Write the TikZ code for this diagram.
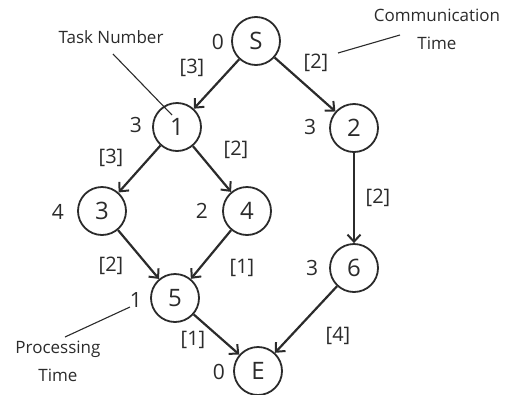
\documentclass[tikz,border=0pt]{standalone}
\usepackage{fontspec}
\setmainfont{Open Sans}
\usetikzlibrary{arrows.meta}
\definecolor{ink}{HTML}{2B2B2B}
\begin{document}
\begin{tikzpicture}[x=1pt,y=-1pt,
  task/.style={circle,draw=ink,line width=1.8pt,minimum size=48pt,inner sep=0pt,font=\fontsize{24}{26}\selectfont,text=ink},
  ptime/.style={font=\fontsize{21}{24}\selectfont,text=ink},
  ctime/.style={font=\fontsize{20}{22}\selectfont,text=ink},
  note/.style={font=\fontsize{17}{28}\selectfont,text=ink,align=center},
  edge/.style={draw=ink,line width=2.2pt,-{Straight Barb[length=7pt,width=13pt,line width=2pt]}},
  pointer/.style={draw=ink,line width=1.1pt}]
\useasboundingbox (0,0) rectangle (511,394);
% tasks
\node[task] (S) at (256,41) {S};
\node[task] (n1) at (177,127) {1};
\node[task] (n2) at (354,128) {2};
\node[task] (n3) at (102,211) {3};
\node[task] (n4) at (247,211) {4};
\node[task] (n5) at (175,298) {5};
\node[task] (n6) at (354,268) {6};
\node[task] (E) at (258,371) {E};
% processing times
\node[ptime] (pS) at (218,42) {0};
\node[ptime] (p1) at (136,125) {3};
\node[ptime] (p2) at (310,127) {3};
\node[ptime] (p3) at (58,212) {4};
\node[ptime] (p4) at (202,211) {2};
\node[ptime] (p6) at (312,268) {3};
\node[ptime] (p5) at (136,300) {1};
\node[ptime] (pE) at (219,372) {0};
% dependencies
\draw[edge] (S) -- (n1);
\draw[edge] (S) -- (n2);
\draw[edge] (n1) -- (n3);
\draw[edge] (n1) -- (n4);
\draw[edge] (n3) -- (n5);
\draw[edge] (n4) -- (n5);
\draw[edge] (n2) -- (n6);
\draw[edge] (n5) -- (E);
\draw[edge] (n6) -- (E);
% communication times
\node[ctime] (cS1) at (192,68) {[3]};
\node[ctime] (cS2) at (316,63) {[2]};
\node[ctime] (c13) at (111,158) {[3]};
\node[ctime] (c14) at (236,150) {[2]};
\node[ctime] (c26) at (378,198) {[2]};
\node[ctime] (c35) at (111,266) {[2]};
\node[ctime] (c45) at (242,268) {[1]};
\node[ctime] (c5E) at (193,340) {[1]};
\node[ctime] (c6E) at (338,336) {[4]};
% annotations
\node[note] (tn) at (111,37) {Task Number};
\node[note] (ct) at (437,29) {Communication\\Time};
\node[note] (pt) at (58,361) {Processing\\Time};
\coordinate (tnA) at (113,54);
\coordinate (tnB) at (172,115);
\coordinate (ctA) at (400,35);
\coordinate (ctB) at (338,53);
\coordinate (ptA) at (65,337);
\coordinate (ptB) at (130,307);
\draw[pointer] (tnA) -- (tnB);
\draw[pointer] (ctA) -- (ctB);
\draw[pointer] (ptA) -- (ptB);
\end{tikzpicture}
\end{document}
